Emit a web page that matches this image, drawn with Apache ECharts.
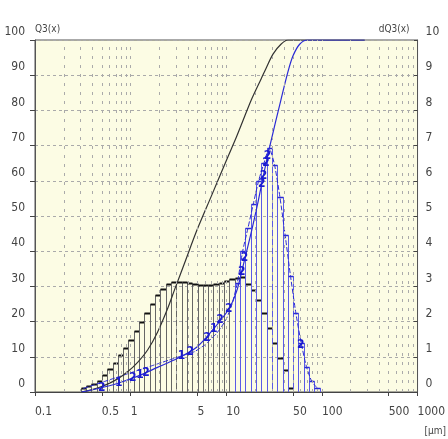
<!DOCTYPE html>
<html><head><meta charset="utf-8">
<script src="https://cdn.jsdelivr.net/npm/echarts@6/dist/echarts.min.js"></script>
<style>html,body{margin:0;padding:0;background:#fff}#c{width:448px;height:439px}</style>
</head><body><div id="c"></div>
<script>
// bin edges (µm)
const binEdges = [0.3,0.341,0.3875,0.4404,0.5005,0.5688,0.6463,0.7346,0.8348,0.9487,
  1.078,1.225,1.392,1.582,1.798,2.044,2.323,2.640,3.0,3.41,3.875,4.404,5.005,5.688,6.463,7.346,8.348,9.487,
  10.78,12.25,13.92,15.82,17.98,20.44,23.23,26.40,30.0,34.1,38.75,44.04,50.05,56.88,64.63,73.46,83.48,94.87];
// dQ3 sample 1 (black), per bin
const blackDensity = [0.12,0.18,0.24,0.32,0.48,0.64,0.82,1.05,1.26,1.48,1.74,1.98,2.25,2.5,2.75,2.94,3.06,3.12,3.13,3.13,
  3.1,3.06,3.05,3.05,3.05,3.07,3.1,3.15,3.2,3.25,3.28,3.07,2.9,2.6,2.24,1.82,1.39,0.97,0.62,0.11];
// dQ3 sample 2 (blue), per bin
const blueDensity = [0.1,0.15,0.2,0.25,0.3,0.35,0.4,0.45,0.5,0.55,0.6,0.65,0.7,0.75,0.8,0.85,0.9,0.95,1.0,1.05,
  1.1,1.15,1.25,1.35,1.5,1.65,1.85,2.1,2.5,3.1,4.0,4.66,5.34,6.0,6.5,6.93,6.45,5.55,4.45,3.3,2.25,1.4,0.72,0.3,0.12];
// Q3 cumulative sample 1
const blackCumX = [0.306,0.361,0.458,0.58,0.738,0.936,1.19,1.51,1.91,2.42,2.92,3.71,4.94,7.07,10.1,12.8,18.3,23.2,26.1,30.8,37.3,44.2,280];
const blackCumY = [0,0.4,1.2,2.3,3.8,5.8,8.5,12,17,23.5,29.5,37,46,56,66,72.5,83,89,92,96,98.8,100,100];
// Q3 cumulative sample 2
const blueCumX = [0.306,0.458,0.738,1.19,1.91,3.06,4.94,7.4,10.6,12.8,15.2,18.3,21.5,24.9,29.2,37.3,44.2,49.9,58.5,70.8,280];
const blueCumY = [0,1.0,2.5,4.5,7,9.5,12.8,18,23.5,28.5,36.5,45.5,54,62.5,71,83,91,95.5,98.8,100,100];
// curve markers
const markerX = [0.5,0.75,1.05,1.25,1.45,3.4,4.2,6.3,7.4,8.6,10.6,14.5,15.5,23.5,24.5,26,27,60];
const markerY = [1.3,2.6,3.9,4.8,5.5,10.3,11.5,15.5,18,20.5,23.5,34,38,59,61.5,65,67,13.3];
const markerText = ['2','1','2','1','2','1','2','2','1','2','2','2','2','2','2','2','2','2'];
// axis ticks
const xTickValues = [0.1,0.5,1,5,10,50,100,500,1000];
const decades = [0.1,1,10,100];
const multipliers = [1,2,3,4,5,6,7,8,9];

const font = "'Liberation Sans Narrow','DejaVu Sans Condensed','Arial Narrow',sans-serif";
const vGrid = [];
decades.forEach(d => multipliers.forEach(m => { const v = +(d*m).toPrecision(3); if (v > 0.1 && v < 1000) vGrid.push({xAxis: v}); }));

function barRender(stroke, topColor, topWidth) {
  return function (params, api) {
    const x0 = api.value(0), x1 = api.value(1), h = api.value(2);
    const p0 = api.coord([x0, 0]);
    const p1 = api.coord([x1, h]);
    const l = Math.round(p0[0]) + 0.5, r = Math.round(p1[0]) + 0.5, t = Math.round(p1[1]) + 0.5, b = p0[1];
    return {type: 'group', children: [
      {type: 'polyline', shape: {points: [[l, b], [l, t], [r, t], [r, b]]}, style: {fill: 'none', stroke: stroke, lineWidth: 1}},
      {type: 'line', shape: {x1: l, y1: t, x2: r, y2: t}, style: {stroke: topColor, lineWidth: topWidth}}
    ]};
  };
}

const chart = echarts.init(document.getElementById('c'), null, {renderer: 'canvas'});
chart.setOption({
  animation: false,
  backgroundColor: '#fff',
  grid: {left: 35, right: 25, top: 40, bottom: 47, show: true, backgroundColor: '#fcfce4', borderColor: '#555', borderWidth: 1},
  xAxis: {
    type: 'log', logBase: 10, min: 0.1, max: 1000,
    axisLine: {lineStyle: {color: '#444', width: 1}},
    axisTick: {show: true, customValues: xTickValues, length: 4, lineStyle: {color: '#444'}},
    axisLabel: {customValues: xTickValues, formatter: v => String(+(+v).toPrecision(3)), align: 'left', margin: 14,
      color: '#444', fontFamily: font, fontSize: 12},
    splitLine: {show: false}, minorTick: {show: false}
  },
  yAxis: [
    {type: 'value', min: 0, max: 100, interval: 10, position: 'left',
      name: 'Q3(x)', nameLocation: 'end', nameGap: 6,
      nameTextStyle: {align: 'left', verticalAlign: 'bottom', color: '#444', fontFamily: font, fontSize: 10},
      axisLine: {show: true, lineStyle: {color: '#555'}},
      axisTick: {show: true, length: 5, lineStyle: {color: '#444'}},
      axisLabel: {color: '#444', fontFamily: font, fontSize: 12, margin: 10, verticalAlign: 'bottom', padding: [0, 0, 2, 0]},
      splitLine: {show: true, lineStyle: {color: '#aaa', type: [3, 3], width: 1}}},
    {type: 'value', min: 0, max: 10, interval: 1, position: 'right',
      name: 'dQ3(x)', nameLocation: 'end', nameGap: 6,
      nameTextStyle: {align: 'right', verticalAlign: 'bottom', color: '#444', fontFamily: font, fontSize: 10, padding: [0, 8, 0, 0]},
      axisLine: {show: true, lineStyle: {color: '#555'}},
      axisTick: {show: true, inside: true, length: 4, lineStyle: {color: '#444'}},
      axisLabel: {color: '#444', fontFamily: font, fontSize: 12, margin: 8, verticalAlign: 'bottom', padding: [0, 0, 2, 0]},
      splitLine: {show: false}}
  ],
  graphic: [{type: 'text', right: 2, bottom: 3, style: {text: '[µm]', fill: '#444', font: '10px ' + font}}],
  series: [
    {type: 'line', xAxisIndex: 0, yAxisIndex: 0, data: [], silent: true,
      markLine: {silent: true, symbol: 'none', label: {show: false}, lineStyle: {color: '#aaa', type: [3, 6], width: 1}, data: vGrid}},
    {type: 'custom', name: 'dQ3 1', xAxisIndex: 0, yAxisIndex: 1, encode: {x: [0, 1], y: 2},
      renderItem: barRender('#666', '#111', 2),
      data: blackDensity.map((v, i) => [binEdges[i], binEdges[i + 1], v])},
    {type: 'custom', name: 'dQ3 2', xAxisIndex: 0, yAxisIndex: 1, encode: {x: [0, 1], y: 2},
      renderItem: barRender('#5a5ae6', '#2a2ad6', 1.5),
      data: blueDensity.slice(29).map((v, i) => [binEdges[i + 29], binEdges[i + 30], v])},
    {type: 'line', name: 'q3 2', xAxisIndex: 0, yAxisIndex: 1, symbol: 'none', smooth: 0.2,
      lineStyle: {color: '#2a2ad6', width: 1, type: [5, 2]},
      data: blueDensity.map((v, i) => [Math.sqrt(binEdges[i] * binEdges[i + 1]), v])},
    {type: 'line', name: 'Q3 1', xAxisIndex: 0, yAxisIndex: 0, symbol: 'none', smooth: 0.3,
      lineStyle: {color: '#333', width: 1.2},
      data: blackCumX.map((x, i) => [x, blackCumY[i]])},
    {type: 'line', name: 'Q3 2', xAxisIndex: 0, yAxisIndex: 0, symbol: 'none', smooth: 0.3,
      lineStyle: {color: '#2a2ad6', width: 1.2},
      data: blueCumX.map((x, i) => [x, blueCumY[i]])},
    {type: 'custom', name: 'markers', xAxisIndex: 0, yAxisIndex: 0, encode: {x: 0, y: 1}, z: 10,
      renderItem: function (params, api) {
        const p = api.coord([api.value(0), api.value(1)]);
        return {type: 'text', x: p[0], y: p[1],
          style: {text: markerText[params.dataIndex], fill: '#1a1ad0', align: 'center', verticalAlign: 'middle',
            font: 'bold 12px ' + font}};
      },
      data: markerX.map((x, i) => [x, markerY[i]])}
  ]
});
</script>
</body></html>
